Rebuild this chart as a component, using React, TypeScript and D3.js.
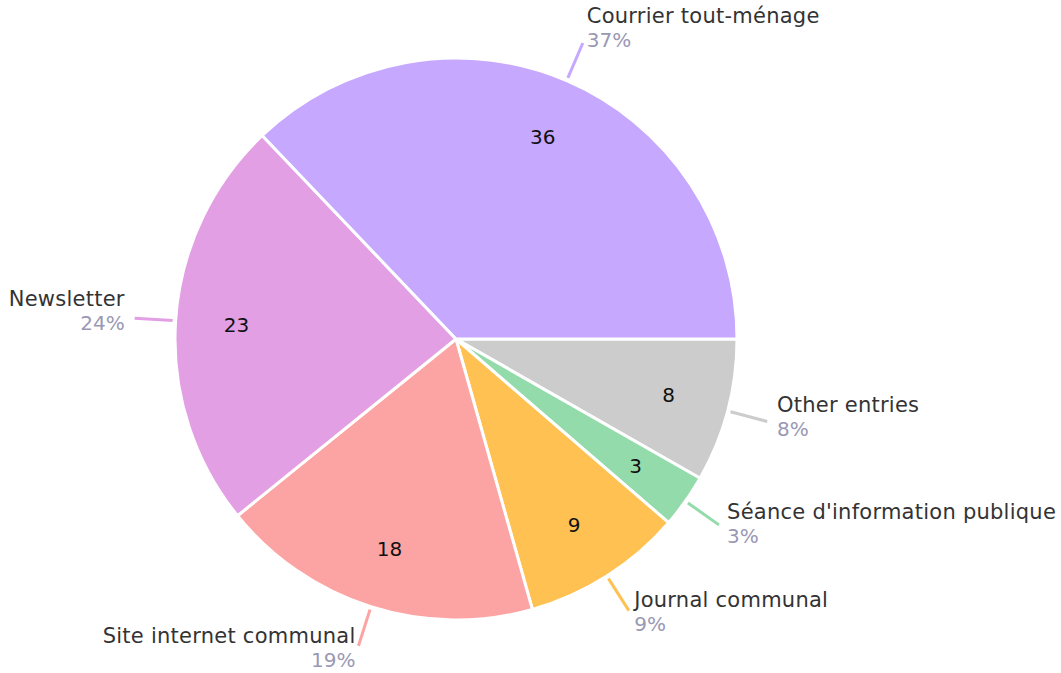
import React from "react";
import * as d3 from "d3";

const categories = [
  "Other entries",
  "Séance d'information publique",
  "Journal communal",
  "Site internet communal",
  "Newsletter",
  "Courrier tout-ménage",
];
const values = [8, 3, 9, 18, 23, 36];
const percentLabels = ["8%", "3%", "9%", "19%", "24%", "37%"];
const colors = ["#cccccc", "#93dbab", "#ffc152", "#fca3a3", "#e29fe3", "#c6a8fe"];

const W = 1061;
const H = 673;
const cx = 456;
const cy = 339;
const R = 281;
const FONT = "'DejaVu Sans', sans-serif";

export default function App() {
  const pie = d3
    .pie<number>()
    .sort(null)
    .value((d) => d)
    .startAngle(Math.PI / 2)
    .endAngle(Math.PI / 2 + 2 * Math.PI);
  const arcs = pie(values);
  const arc = d3.arc<d3.PieArcDatum<number>>().innerRadius(0).outerRadius(R);
  const pt = (a: number, r: number): [number, number] => [Math.sin(a) * r, -Math.cos(a) * r];

  return (
    <svg
      width={W}
      height={H}
      style={{ position: "absolute", left: 0, top: 0, display: "block" }}
      fontFamily={FONT}
    >
      <g transform={`translate(${cx},${cy})`}>
        {arcs.map((a, i) => (
          <path key={i} d={arc(a) as string} fill={colors[i]} stroke="#fff" strokeWidth={3} strokeLinejoin="round" />
        ))}
        {arcs.map((a, i) => {
          const m = (a.startAngle + a.endAngle) / 2;
          const [x, y] = pt(m, 220);
          return (
            <text key={"v" + i} x={x} y={y} textAnchor="middle" dominantBaseline="central" fontSize={20} fill="#111">
              {values[i]}
            </text>
          );
        })}
        {arcs.map((a, i) => {
          const m = (a.startAngle + a.endAngle) / 2;
          const [x1, y1] = pt(m, R + 3);
          const [x2, y2] = pt(m, R + 41);
          const s = Math.sin(m);
          const c = -Math.cos(m);
          const tx = x2 + 10 * s;
          const pb = y2 + 12.5 + 9 * c;
          const anchor = s >= 0 ? "start" : "end";
          return (
            <g key={"l" + i}>
              <line x1={x1} y1={y1} x2={x2} y2={y2} stroke={colors[i]} strokeWidth={3} />
              <text x={tx} y={pb - 24} textAnchor={anchor} fontSize={21} letterSpacing={0.25} fill="#333">
                {categories[i]}
              </text>
              <text x={tx} y={pb} textAnchor={anchor} fontSize={20} fill="#9a98b4">
                {percentLabels[i]}
              </text>
            </g>
          );
        })}
      </g>
    </svg>
  );
}
